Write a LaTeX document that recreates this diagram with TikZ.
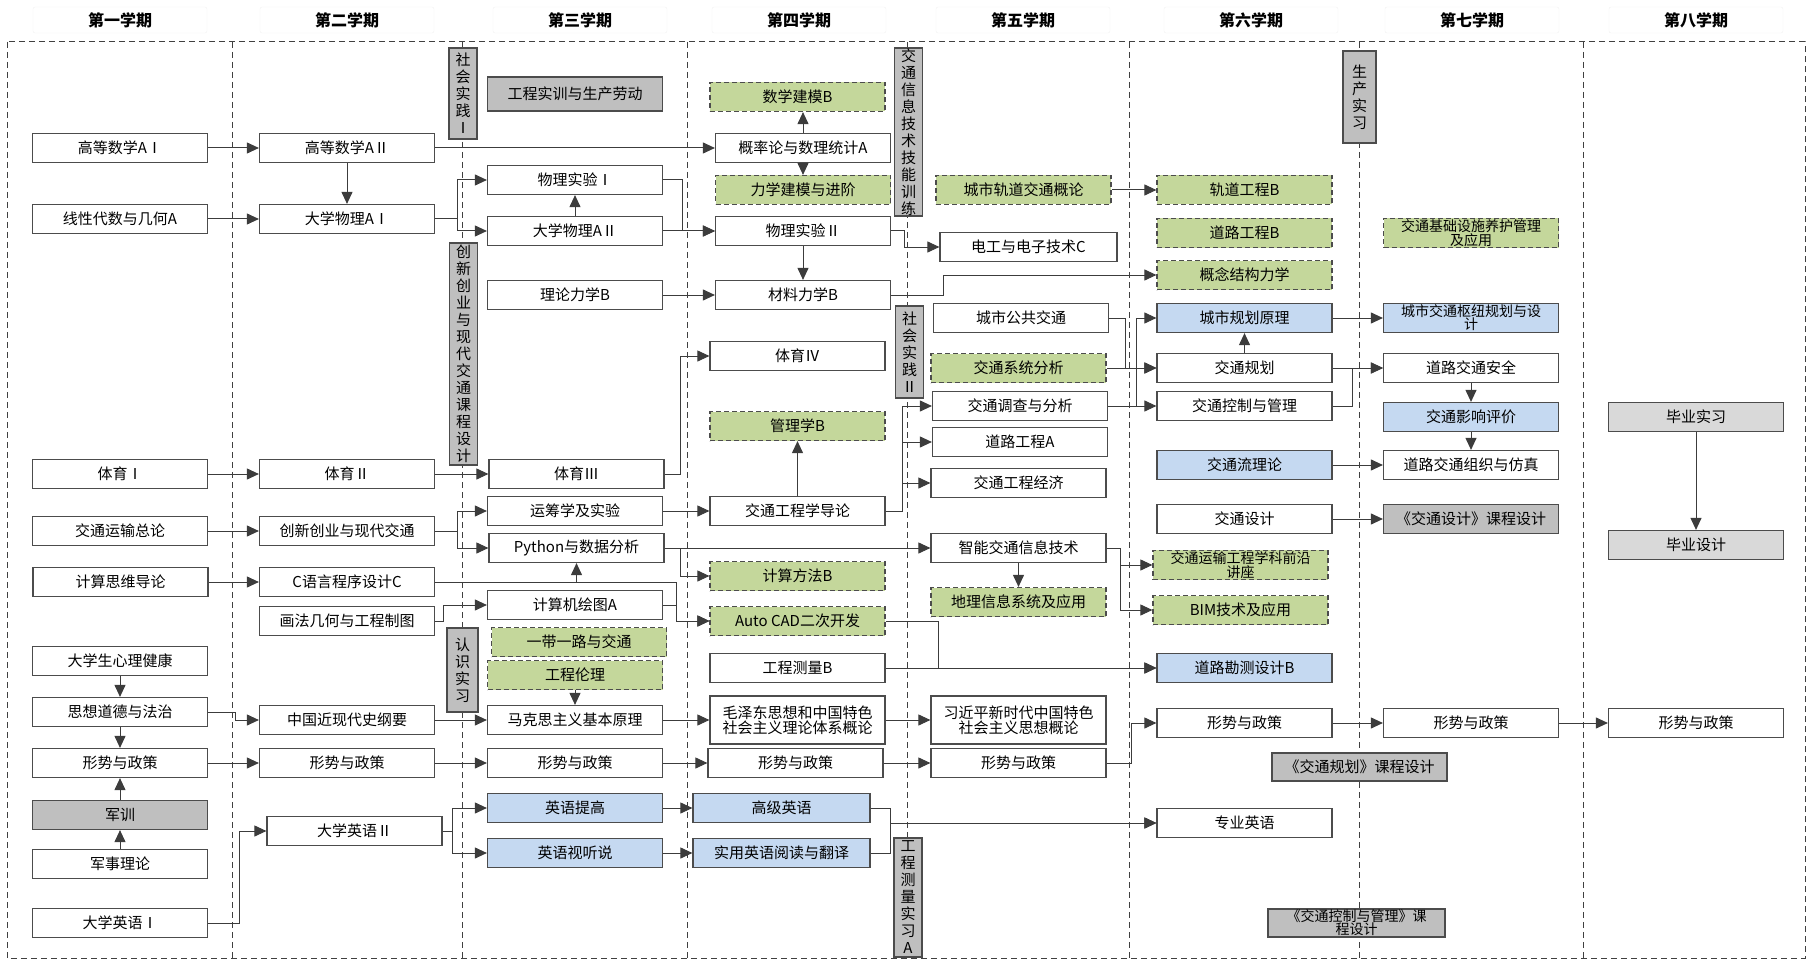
\documentclass[tikz,border=0pt]{standalone}
\usepackage{fontspec}
\setmainfont{Noto Sans CJK SC}
\usepackage{tikz}
\usetikzlibrary{arrows.meta}
\definecolor{gnfill}{RGB}{196,215,155}
\definecolor{blfill}{RGB}{197,217,241}
\definecolor{gyfill}{RGB}{191,191,191}
\definecolor{lgfill}{RGB}{217,217,217}
\definecolor{edgecol}{RGB}{60,60,60}
\newcommand{\twoline}{\fontsize{14}{13}\selectfont}
\newcommand{\tightline}{\fontsize{15}{15}\selectfont}

\begin{document}
\begin{tikzpicture}[x=1pt,y=-1pt,>={Triangle[length=12pt,width=11pt]},font=\fontsize{15}{17}\selectfont]
\tikzstyle{box}=[draw=black!70,line width=1.2pt,align=center,inner sep=1pt,minimum height=29pt,minimum width=175pt]
\tikzstyle{course}=[box,fill=white]
\tikzstyle{elective}=[box,fill=gnfill,dash pattern=on 5pt off 3pt]
\tikzstyle{key}=[box,fill=blfill]
\tikzstyle{practice}=[box,fill=gyfill]
\tikzstyle{thesis}=[box,fill=lgfill]
\tikzstyle{vpractice}=[practice,minimum width=28pt,inner sep=0pt]
\tikzstyle{term}=[draw=black!6,rounded corners=2pt,minimum width=174pt,minimum height=26pt,font=\fontsize{16}{18}\selectfont\bfseries]
\tikzstyle{link}=[->,draw=edgecol,line width=1pt]
\tikzstyle{divider}=[draw=black!75,line width=1pt,dash pattern=on 6pt off 4pt]
\useasboundingbox (0,0) rectangle (1807,960);

\draw[divider] (7,42) rectangle (1805,958);
\foreach \x in {232,462,687,907,1129,1359,1583}
  \draw[divider] (\x,42) -- (\x,958);
\foreach \x/\t [count=\i] in {120/第一学期,347/第二学期,580/第三学期,799/第四学期,1023/第五学期,1251/第六学期,1472/第七学期,1696/第八学期}
  \node[term] (term\i) at (\x,20) {\t};

\node[course] (gsA1) at (120,148) {高等数学AⅠ};
\node[course] (xxds) at (120,219) {线性代数与几何A};
\node[course] (ty1) at (120,474) {体育Ⅰ};
\node[course] (jtys) at (120,531) {交通运输总论};
\node[course] (jssw) at (120.5,582) {计算思维导论};
\node[course] (xlj) at (120,661) {大学生心理健康};
\node[course] (sxdd) at (120,712) {思想道德与法治};
\node[course] (xs1) at (120,763) {形势与政策};
\node[practice] (junxun) at (120,815) {军训};
\node[course] (jsll) at (120,864) {军事理论};
\node[course] (yy1) at (120,923) {大学英语Ⅰ};

\node[course] (gsA2) at (347,148) {高等数学AⅡ};
\node[course] (wlA1) at (347,219) {大学物理AⅠ};
\node[course] (ty2) at (347,474) {体育Ⅱ};
\node[course] (cxcy) at (347,531) {创新创业与现代交通};
\node[course] (cyy) at (347,582) {C语言程序设计C};
\node[course] (hfjh) at (347,621) {画法几何与工程制图};
\node[course] (zgjxd) at (347,720) {中国近现代史纲要};
\node[course] (xs2) at (347,763) {形势与政策};
\node[course] (yy2) at (354.5,831) {大学英语Ⅱ};

\node[vpractice,minimum height=91pt] (shsj1) at (463,93.5) {社\\会\\实\\践\\Ⅰ};
\node[vpractice,minimum height=222pt] (cxkc) at (463.5,354) {创\\新\\创\\业\\与\\现\\代\\交\\通\\课\\程\\设\\计};
\node[vpractice,minimum height=84pt,minimum width=31pt] (rssx) at (462.5,670) {认\\识\\实\\习};

\node[practice,minimum height=34pt] (gcsx) at (575,94) {工程实训与生产劳动};
\node[course] (wlsy1) at (575,180) {物理实验Ⅰ};
\node[course] (wlA2) at (575,231) {大学物理AⅡ};
\node[course] (lllx) at (575,295) {理论力学B};
\node[course] (ty3) at (576.5,474) {体育Ⅲ};
\node[course] (ycx) at (575,511) {运筹学及实验};
\node[course] (python) at (576.5,548) {Python与数据分析};
\node[course] (jsht) at (575,605) {计算机绘图A};
\node[elective] (ydyl) at (579,642) {一带一路与交通};
\node[elective] (gclj) at (575,675) {工程伦理};
\node[course] (mks) at (575,720) {马克思主义基本原理};
\node[course] (xs3) at (575,763) {形势与政策};
\node[key] (yytg) at (575,808) {英语提高};
\node[key] (yysts) at (575,853) {英语视听说};

\node[elective] (sxjm) at (797.5,97) {数学建模B};
\node[course] (glA) at (803,148) {概率论与数理统计A};
\node[elective] (lxjm) at (803,190) {力学建模与进阶};
\node[course] (wlsy2) at (803,231) {物理实验Ⅱ};
\node[course] (clsx) at (803,295) {材料力学B};
\node[course] (ty4) at (797.5,356) {体育Ⅳ};
\node[elective] (glxB) at (797.5,426) {管理学B};
\node[course] (jtgc) at (797.5,511) {交通工程学导论};
\node[elective] (jsff) at (797.5,576) {计算方法B};
\node[elective] (autocad) at (797.5,621) {Auto CAD二次开发};
\node[course] (gccl) at (797.5,668) {工程测量B};
\node[course,minimum height=48pt,font=\tightline] (mgl) at (797.5,720) {毛泽东思想和中国特色\\社会主义理论体系概论};
\node[course] (xs4) at (795.5,763) {形势与政策};
\node[key,minimum width=177pt] (gjyy) at (781.5,808) {高级英语};
\node[key,minimum width=177pt] (syyy) at (781.5,853) {实用英语阅读与翻译};

\node[vpractice,minimum height=168pt] (jtxx) at (908.5,132) {交\\通\\信\\息\\技\\术\\技\\能\\训\\练};
\node[vpractice,minimum height=92pt] (shsj2) at (909.5,352) {社\\会\\实\\践\\Ⅱ};
\node[vpractice,minimum height=119pt] (gcclsx) at (908,897.5) {工\\程\\测\\量\\实\\习\\A};

\node[elective] (gdjt) at (1023.5,190) {城市轨道交通概论};
\node[course,minimum width=177pt] (dgdz) at (1028.5,247) {电工与电子技术C};
\node[course] (csgj) at (1021,318) {城市公共交通};
\node[elective] (jtxt) at (1018.5,368) {交通系统分析};
\node[course] (jtdc) at (1020,406) {交通调查与分析};
\node[course] (dlgcA) at (1020,442) {道路工程A};
\node[course] (jtjj) at (1018.5,483) {交通工程经济};
\node[course] (znjt) at (1018.5,548) {智能交通信息技术};
\node[elective] (gis) at (1018.5,602) {地理信息系统及应用};
\node[course,minimum height=48pt,font=\tightline] (xgl) at (1018.5,720) {习近平新时代中国特色\\社会主义思想概论};
\node[course] (xs5) at (1018.5,763) {形势与政策};

\node[elective] (gdgcB) at (1244.5,190) {轨道工程B};
\node[elective] (dlgcB) at (1244.5,233) {道路工程B};
\node[elective] (gnjg) at (1244.5,275) {概念结构力学};
\node[key] (csgh) at (1244.5,318) {城市规划原理};
\node[course] (jtgh) at (1244.5,368) {交通规划};
\node[course] (jtkz) at (1244.5,406) {交通控制与管理};
\node[key] (jtl) at (1244.5,465) {交通流理论};
\node[course] (jtsj) at (1244.5,519) {交通设计};
\node[elective,font=\twoline] (qylz) at (1240.5,565) {交通运输工程学科前沿\\讲座};
\node[elective] (bim) at (1240.5,610) {BIM技术及应用};
\node[key] (dlkc) at (1244.5,668) {道路勘测设计B};
\node[course] (xs6) at (1244.5,723) {形势与政策};
\node[course] (zyyy) at (1244.5,823) {专业英语};

\node[vpractice,minimum width=33pt,minimum height=92pt] (scsx) at (1359.5,97) {生\\产\\实\\习};
\node[practice,minimum height=28pt] (jtghkc) at (1359.5,767) {《交通规划》课程设计};
\node[practice,minimum width=177pt,minimum height=28pt,font=\twoline] (jtkzkc) at (1356.5,923) {《交通控制与管理》课\\程设计};

\node[elective,font=\twoline] (jcss) at (1471,233) {交通基础设施养护管理\\及应用};
\node[key,font=\twoline] (csjt) at (1471,318) {城市交通枢纽规划与设\\计};
\node[course] (dlaq) at (1471,368) {道路交通安全};
\node[key] (jtyx) at (1471,417) {交通影响评价};
\node[course] (dlzz) at (1471,465) {道路交通组织与仿真};
\node[practice] (jtsjkc) at (1471,519) {《交通设计》课程设计};
\node[course] (xs7) at (1471,723) {形势与政策};

\node[thesis] (byss) at (1696,417) {毕业实习};
\node[thesis] (bysj) at (1696,545) {毕业设计};
\node[course] (xs8) at (1696,723) {形势与政策};

\foreach \a/\b in {gsA1/gsA2,xxds/wlA1,ty1/ty2,jtys/cxcy,jssw/cyy,xlj/sxdd,sxdd/xs1,junxun/xs1,jsll/junxun,xs1/xs2,
  gsA2/wlA1,gsA2/glA,ty2/ty3,zgjxd/mks,xs2/xs3,wlA2/wlsy2,wlA2/wlsy1,lllx/clsx,ycx/jtgc,python/znjt,gclj/mks,mks/mgl,xs3/xs4,
  yytg/gjyy,yysts/syyy,wlsy2/clsx,jtgc/glxB,gccl/dlkc,mgl/xgl,xs4/xs5,gdjt/gdgcB,jtxt/jtgh,jtdc/jtkz,znjt/gis,
  jtgh/csgh,csgh/csjt,jtgh/dlaq,jtl/dlzz,jtsj/jtsjkc,xs6/xs7,dlaq/jtyx,jtyx/dlzz,xs7/xs8,byss/bysj}
  \draw[link] (\a) -- (\b);
\draw[link] (glA.north) -- (glA.north |- sxjm.south);
\draw[link] (glA.south) -- (glA.south |- lxjm.north);
\draw[link] (sxdd.east) -- ++(27,0) |- (zgjxd.west);
\draw[link] (yy1.east) -- ++(31,0) |- (yy2.west);
\draw[link] (wlA1.east) -- ++(22,0) |- (wlsy1.west);
\draw[link] (wlA1.east) -- ++(22,0) |- (wlA2.west);
\draw[link] (cxcy.east) -- ++(22,0) |- (ycx.west);
\draw[link] (cxcy.east) -- ++(22,0) |- (python.west);
\draw[link] (cyy.east) -| (python.south);
\draw[link] (cyy.east) -- ++(241,0) |- (autocad.west);
\draw[link] (jsht.east) -- ++(13,0) |- (autocad.west);
\draw[link] (hfjh.east) -- ++(8,0) |- (jsht.west);
\draw[link] (yy2.east) -- ++(10,0) |- (yytg.west);
\draw[link] (yy2.east) -- ++(10,0) |- (yysts.west);
\draw[link] (wlsy1.east) -- ++(19,0) |- (wlsy2.west);
\draw[link] (ty3.east) -- ++(16,0) |- (ty4.west);
\draw[link] (python.east) -- ++(16,0) |- (jsff.west);
\draw[link] (wlsy2.east) -- ++(13,0) |- (dgdz.west);
\draw[link] (clsx.east) -- ++(52,0) |- (gnjg.west);
\draw[link] (jtgc.east) -- ++(17,0) |- (jtdc.west);
\draw[link] (jtgc.east) -- ++(17,0) |- (dlgcA.west);
\draw[link] (jtgc.east) -- ++(17,0) |- (jtjj.west);
\draw[link] (autocad.east) -- ++(53,0) |- (dlkc.west);
\draw[link] (gjyy.east) -- ++(20,0) |- (zyyy.west);
\draw[link] (syyy.east) -- ++(20,0) |- (zyyy.west);
\draw[link] (csgj.east) -- ++(16,0) |- (jtgh.west);
\draw[link] (jtdc.east) -- ++(28,0) |- (csgh.west);
\draw[link] (znjt.east) -- ++(14,0) |- (qylz.west);
\draw[link] (znjt.east) -- ++(14,0) |- (bim.west);
\draw[link] (xs5.east) -- ++(25,0) |- (xs6.west);
\draw[link] (jtkz.east) -- ++(20,0) |- (dlaq.west);
\end{tikzpicture}
\end{document}
